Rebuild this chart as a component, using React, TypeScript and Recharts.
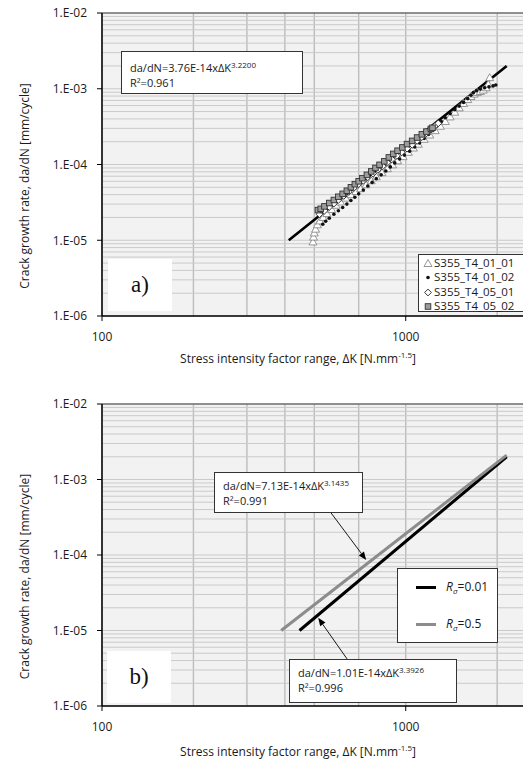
import React from 'react';
import { ScatterChart, Scatter, XAxis, YAxis, CartesianGrid, ReferenceLine, Legend } from 'recharts';

// ---------------- data ----------------
const seriesNames = ['S355_T4_01_01', 'S355_T4_01_02', 'S355_T4_05_01', 'S355_T4_05_02'];

const k_01_01 = [495, 497, 500, 505, 512, 522, 535, 550, 570, 590, 610, 635, 660, 685, 710, 740, 770, 800, 835, 870, 905, 940, 980, 1020, 1060, 1100, 1150, 1200, 1250, 1300, 1350, 1400, 1450, 1500, 1550, 1600, 1640, 1680, 1720, 1760, 1800, 1840, 1870, 1890];
const dadn_01_01 = [9.5e-6, 1.1e-5, 1.25e-5, 1.4e-5, 1.6e-5, 1.8e-5, 2.0e-5, 2.25e-5, 2.55e-5, 2.9e-5, 3.2e-5, 3.6e-5, 4.0e-5, 4.4e-5, 4.8e-5, 5.4e-5, 6.1e-5, 6.9e-5, 7.8e-5, 8.8e-5, 9.9e-5, 1.12e-4, 1.27e-4, 1.45e-4, 1.65e-4, 1.85e-4, 2.15e-4, 2.45e-4, 2.8e-4, 3.2e-4, 3.7e-4, 4.25e-4, 4.9e-4, 5.6e-4, 6.4e-4, 7.2e-4, 7.9e-4, 8.5e-4, 8.9e-4, 9.2e-4, 9.6e-4, 1.03e-3, 1.15e-3, 1.4e-3];

const k_01_02 = [533, 545, 560, 580, 600, 620, 640, 660, 680, 700, 725, 750, 775, 800, 830, 860, 890, 920, 955, 990, 1030, 1070, 1110, 1150, 1190, 1230, 1270, 1310, 1350, 1400, 1450, 1500, 1550, 1600, 1640, 1670, 1710, 1760, 1820, 1880, 1940, 1980];
const dadn_01_02 = [1.63e-5, 1.78e-5, 1.95e-5, 2.2e-5, 2.45e-5, 2.7e-5, 3.0e-5, 3.35e-5, 3.7e-5, 4.1e-5, 4.6e-5, 5.2e-5, 5.8e-5, 6.5e-5, 7.3e-5, 8.2e-5, 9.3e-5, 1.05e-4, 1.18e-4, 1.33e-4, 1.5e-4, 1.7e-4, 1.92e-4, 2.2e-4, 2.5e-4, 2.85e-4, 3.25e-4, 3.7e-4, 4.15e-4, 4.7e-4, 5.3e-4, 5.9e-4, 6.6e-4, 7.4e-4, 8.2e-4, 8.9e-4, 9.4e-4, 9.9e-4, 1.03e-3, 1.06e-3, 1.09e-3, 1.12e-3];

const k_05_01 = [520, 540, 560, 580, 600, 625, 650, 675, 700, 725, 750, 780, 810, 840, 870, 900, 935, 970, 1010, 1050, 1090, 1130, 1170, 1210, 1250, 1280];
const dadn_05_01 = [2.2e-5, 2.45e-5, 2.75e-5, 3.05e-5, 3.4e-5, 3.85e-5, 4.35e-5, 4.9e-5, 5.5e-5, 6.1e-5, 6.8e-5, 7.6e-5, 8.5e-5, 9.5e-5, 1.06e-4, 1.17e-4, 1.3e-4, 1.45e-4, 1.62e-4, 1.82e-4, 2.05e-4, 2.3e-4, 2.58e-4, 2.9e-4, 3.25e-4, 3.5e-4];

const k_05_02 = [514, 525, 540, 560, 580, 600, 620, 640, 660, 680, 700, 720, 745, 770, 795, 820, 850, 880, 910, 940, 975, 1010, 1050, 1090, 1130, 1170, 1210, 1225];
const dadn_05_02 = [2.5e-5, 2.6e-5, 2.8e-5, 3.1e-5, 3.4e-5, 3.75e-5, 4.1e-5, 4.5e-5, 5.0e-5, 5.5e-5, 6.0e-5, 6.6e-5, 7.3e-5, 8.1e-5, 9.0e-5, 9.9e-5, 1.1e-4, 1.24e-4, 1.38e-4, 1.52e-4, 1.68e-4, 1.86e-4, 2.05e-4, 2.27e-4, 2.5e-4, 2.72e-4, 2.95e-4, 3.05e-4];

// power-law fit line of chart a) (end points)
const trendK = [412, 2150];
const trendDadn = [1.0e-5, 2.0e-3];

// chart b) fit lines (end points)
const lineNamesB = ['R=0.01', 'R=0.5'];
const kR001 = [447, 2150];
const dadnR001 = [1.0e-5, 2.0e-3];
const kR05 = [389, 2150];
const dadnR05 = [1.0e-5, 2.1e-3];

// arrows of chart b) (from label box to line), in data units
const arrowUpperK = [568, 741];
const arrowUpperDadn = [3.6e-4, 8.6e-5];
const arrowLowerK = [641, 515];
const arrowLowerDadn = [4.2e-6, 1.47e-5];

// axes
const xDomain = [100, 2470];
const yDomain = [1e-6, 1e-2];
const xTicks = [100, 1000];
const yTicks = [1e-6, 1e-5, 1e-4, 1e-3, 1e-2];
const xGridValues = [100, 200, 300, 400, 500, 600, 700, 800, 900, 1000, 2000];
const gridMantissas = [1, 2, 3, 4, 5, 6, 7, 8, 9];
const gridDecades = [1e-6, 1e-5, 1e-4, 1e-3];
const yGridValues = [...gridDecades.flatMap((d) => gridMantissas.map((m) => m * d)), 1e-2];

const eqA = { base: 'da/dN=3.76E-14x\u0394K', exp: '3.2200', r2: 'R\u00b2=0.961' };
const eqB1 = { base: 'da/dN=7.13E-14x\u0394K', exp: '3.1435', r2: 'R\u00b2=0.991' };
const eqB2 = { base: 'da/dN=1.01E-14x\u0394K', exp: '3.3926', r2: 'R\u00b2=0.996' };

// ---------------- helpers ----------------
const zip = (ks: number[], vs: number[]) => ks.map((k, i) => ({ x: k, y: vs[i] }));

const FONT = "'Open Sans', 'DejaVu Sans', sans-serif";
const TXT = '#1a1a1a';

const fmtY = (v: number) => {
  const e = Math.round(Math.log10(v));
  return `1.E-${String(-e).padStart(2, '0')}`;
};

const noShape = () => <g />;

const TriangleMk = (p: any) => {
  const { cx, cy } = p;
  const s = 4;
  return <polygon points={`${cx},${cy - s} ${cx - s},${cy + s * 0.75} ${cx + s},${cy + s * 0.75}`} fill="#ffffff" stroke="#8a8a8a" strokeWidth={0.9} />;
};
const DotMk = (p: any) => <circle cx={p.cx} cy={p.cy} r={1.8} fill="#111" />;
const DiamondMk = (p: any) => {
  const { cx, cy } = p;
  const s = 3.4;
  return <polygon points={`${cx},${cy - s} ${cx + s},${cy} ${cx},${cy + s} ${cx - s},${cy}`} fill="#ffffff" stroke="#222" strokeWidth={0.9} />;
};
const SquareMk = (p: any) => <rect x={p.cx - 2.8} y={p.cy - 2.8} width={5.6} height={5.6} fill="#9c9c9c" stroke="#333" strokeWidth={0.9} />;

const markerShapes = [TriangleMk, DotMk, DiamondMk, SquareMk];

const LegendMarkerSvg = ({ idx }: { idx: number }) => {
  const Mk = markerShapes[idx];
  return (
    <svg width={10} height={10} style={{ display: 'block' }}>
      <Mk cx={5} cy={5.5} />
    </svg>
  );
};

const TopLegend = (props: any) => {
  const items = (props.payload || []).filter((it: any) => seriesNames.includes(it.value));
  return (
    <div style={{ boxSizing: 'border-box', width: 130, height: 58, background: '#fff', border: '1px solid #333', borderRight: 'none', paddingTop: 1, fontFamily: FONT, fontSize: 11.5, color: TXT }}>
      {items.map((it: any) => (
        <div key={it.value} style={{ display: 'flex', alignItems: 'center', height: 14.3, lineHeight: '14px', whiteSpace: 'nowrap', overflow: 'hidden' }}>
          <div style={{ width: 4 }} />
          <LegendMarkerSvg idx={seriesNames.indexOf(it.value)} />
          <span style={{ marginLeft: 1 }}>{it.value}</span>
        </div>
      ))}
    </div>
  );
};

const bottomLineStyles: Record<string, { stroke: string; sub: string; val: string }> = {
  'R=0.01': { stroke: '#000000', sub: '\u03c3', val: '=0.01' },
  'R=0.5': { stroke: '#8c8c8c', sub: '\u03c3', val: '=0.5' },
};

const BottomLegend = (props: any) => {
  const items = (props.payload || []).filter((it: any) => lineNamesB.includes(it.value));
  return (
    <div style={{ position: 'relative', boxSizing: 'border-box', width: 101, height: 75, background: '#fff', border: '1px solid #333', fontFamily: FONT, fontSize: 12, color: TXT }}>
      {items.map((it: any, i: number) => {
        const st = bottomLineStyles[it.value];
        const top = i === 0 ? 18 : 55;
        return (
          <div key={it.value} style={{ position: 'absolute', left: 0, top: top - 8, height: 16, width: 100 }}>
            <div style={{ position: 'absolute', left: 18, top: 6.5, width: 20, height: 3, background: st.stroke }} />
            <div style={{ position: 'absolute', left: 48, top: 0, lineHeight: '16px', whiteSpace: 'nowrap' }}>
              <i>R</i>
              <i style={{ fontSize: 8, position: 'relative', top: 3 }}>{st.sub}</i>
              {st.val}
            </div>
          </div>
        );
      })}
    </div>
  );
};

const YTitle = (props: any) => {
  const vb = props.viewBox || { x: 0, y: 13, width: 102, height: 303 };
  const cy = vb.y + vb.height / 2 + 21.5;
  return (
    <text x={29} y={cy} transform={`rotate(-90, 29, ${cy})`} textAnchor="middle" fontSize={12} fill={TXT} fontFamily={FONT}>
      Crack growth rate, da/dN [mm/cycle]
    </text>
  );
};

const makeXTitle = (dy: number) => (props: any) => {
  const vb = props.viewBox || { y: 316 };
  const y = vb.y + dy;
  return (
    <text x={298} y={y} textAnchor="middle" fontSize={12} fill={TXT} fontFamily={FONT}>
      Stress intensity factor range, {'\u0394'}K [N.mm
      <tspan dy={-5} fontSize={8}>-1.5</tspan>
      <tspan dy={5}>]</tspan>
    </text>
  );
};

const ArrowShape = (p: any) => {
  const { x1, y1, x2, y2 } = p;
  if ([x1, y1, x2, y2].some((v) => typeof v !== 'number' || isNaN(v))) return <g />;
  const ang = Math.atan2(y2 - y1, x2 - x1);
  const L = 8;
  const Wd = 3.2;
  const bx = x2 - L * Math.cos(ang);
  const by = y2 - L * Math.sin(ang);
  const px = -Math.sin(ang) * Wd;
  const py = Math.cos(ang) * Wd;
  return (
    <g>
      <line x1={x1} y1={y1} x2={bx} y2={by} stroke="#000" strokeWidth={0.9} />
      <polygon points={`${x2},${y2} ${bx + px},${by + py} ${bx - px},${by - py}`} fill="#000" />
    </g>
  );
};

const EqBox = ({ left, top, width, height, padTop, eq }: any) => (
  <div style={{ position: 'absolute', left, top, width, height, boxSizing: 'border-box', background: '#fff', border: '1px solid #333', paddingTop: padTop, paddingLeft: 8, fontFamily: FONT, fontSize: 11, lineHeight: '14px', color: TXT, whiteSpace: 'nowrap' }}>
    <div>
      {eq.base}
      <span style={{ fontSize: 8, position: 'relative', top: -4 }}>{eq.exp}</span>
    </div>
    <div>{eq.r2}</div>
  </div>
);

const PanelTag = ({ left, top, label }: any) => (
  <div style={{ position: 'absolute', left, top, width: 64, height: 52, background: '#fff', display: 'flex', alignItems: 'center', justifyContent: 'center', fontFamily: "'Liberation Serif', 'Times New Roman', serif", fontSize: 23, color: '#111' }}>
    {label}
  </div>
);

const commonAxes = (xAxisHeight: number, titleDy: number) => [
  <XAxis
    key="x"
    type="number"
    dataKey="x"
    scale="log"
    domain={xDomain}
    allowDataOverflow
    ticks={xTicks}
    tickFormatter={(v: number) => String(v)}
    height={xAxisHeight}
    tickSize={5}
    tickMargin={11}
    axisLine={{ stroke: '#000', strokeWidth: 1.5 }}
    tickLine={{ stroke: '#000' }}
    tick={{ fontSize: 12, fill: TXT }}
    label={makeXTitle(titleDy)}
  />,
  <YAxis
    key="y"
    type="number"
    dataKey="y"
    scale="log"
    domain={yDomain}
    allowDataOverflow
    ticks={yTicks}
    tickFormatter={fmtY}
    width={102}
    tickSize={5}
    tickMargin={10}
    axisLine={{ stroke: '#000', strokeWidth: 1.5 }}
    tickLine={{ stroke: '#000' }}
    tick={{ fontSize: 12, fill: TXT }}
    label={YTitle}
  />,
];

const grids = [
  <CartesianGrid key="gbg" fill="#f2f2f2" vertical={false} horizontal={false} />,
  ...yGridValues.map((v) => <ReferenceLine key={`h${v}`} y={v} stroke="#cacaca" strokeWidth={1} />),
  <CartesianGrid key="gv" horizontal={false} verticalValues={xGridValues} stroke="#bdbdbd" strokeWidth={1.4} />,
];

export default function App() {
  const dataSets = [zip(k_01_01, dadn_01_01), zip(k_01_02, dadn_01_02), zip(k_05_01, dadn_05_01), zip(k_05_02, dadn_05_02)];
  return (
    <div style={{ position: 'absolute', left: 0, top: 0, width: 523, height: 760, overflow: 'hidden', background: '#fff', fontFamily: FONT }}>
      {/* chart a) */}
      <div style={{ position: 'absolute', left: 0, top: 0 }}>
        <ScatterChart width={525} height={380} margin={{ top: 13, right: 0, bottom: 0, left: 0 }}>
          {grids}
          {commonAxes(64, 46.5)}
          <ReferenceLine y={1e-2} stroke="#3c3c3c" strokeWidth={1.2} />
          <Scatter name="trend" data={zip(trendK, trendDadn)} line={{ stroke: '#000', strokeWidth: 2.6 }} shape={noShape} legendType="none" isAnimationActive={false} />
          {seriesNames.map((n, i) => (
            <Scatter key={n} name={n} data={dataSets[i]} shape={markerShapes[i]} fill="#888" isAnimationActive={false} />
          ))}
          <Legend content={TopLegend} layout="vertical" align="center" verticalAlign="middle" wrapperStyle={{ left: 418, top: 254, width: 130, height: 58 }} />
        </ScatterChart>
      </div>
      {/* chart b) */}
      <div style={{ position: 'absolute', left: 0, top: 391 }}>
        <ScatterChart width={525} height={369} margin={{ top: 13, right: 0, bottom: 0, left: 0 }}>
          {grids}
          {commonAxes(54, 50)}
          <ReferenceLine y={1e-2} stroke="#3c3c3c" strokeWidth={1.2} />
          <Scatter name={lineNamesB[0]} data={zip(kR001, dadnR001)} line={{ stroke: '#000', strokeWidth: 3 }} shape={noShape} fill="#000" isAnimationActive={false} />
          <Scatter name={lineNamesB[1]} data={zip(kR05, dadnR05)} line={{ stroke: '#8c8c8c', strokeWidth: 3 }} shape={noShape} fill="#8c8c8c" isAnimationActive={false} />
          <ReferenceLine
            segment={[{ x: arrowUpperK[0], y: arrowUpperDadn[0] }, { x: arrowUpperK[1], y: arrowUpperDadn[1] }]}
            ifOverflow="visible"
            shape={ArrowShape}
          />
          <ReferenceLine
            segment={[{ x: arrowLowerK[0], y: arrowLowerDadn[0] }, { x: arrowLowerK[1], y: arrowLowerDadn[1] }]}
            ifOverflow="visible"
            shape={ArrowShape}
          />
          <Legend content={BottomLegend} layout="vertical" align="center" verticalAlign="middle" wrapperStyle={{ left: 397, top: 177, width: 101, height: 75 }} />
        </ScatterChart>
      </div>

      <EqBox left={121} top={51} width={182} height={43} padTop={9} eq={eqA} />
      <PanelTag left={108} top={259} label="a)" />

      <EqBox left={214} top={472} width={149} height={41} padTop={6} eq={eqB1} />
      <EqBox left={289} top={659} width={168} height={44} padTop={6} eq={eqB2} />
      <PanelTag left={107} top={651} label="b)" />
    </div>
  );
}
